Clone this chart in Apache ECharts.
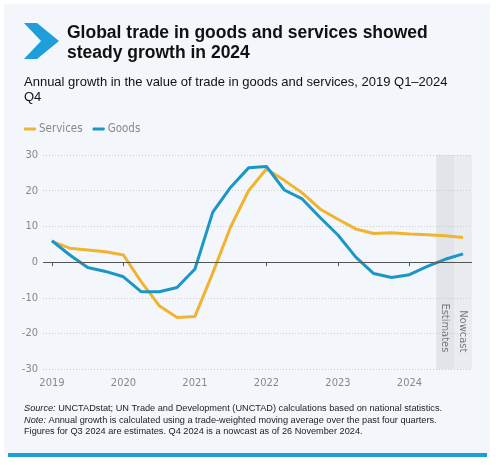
<!DOCTYPE html>
<html>
<head>
<meta charset="utf-8">
<script src="https://cdn.jsdelivr.net/npm/echarts@6/dist/echarts.min.js"></script>
<style>
html,body{margin:0;padding:0;background:#fff;}
#chart{width:500px;height:465px;}
</style>
</head>
<body>
<div id="chart"></div>
<script>
// ---- data ----
var quarters = [
  '2019 Q1','2019 Q2','2019 Q3','2019 Q4',
  '2020 Q1','2020 Q2','2020 Q3','2020 Q4',
  '2021 Q1','2021 Q2','2021 Q3','2021 Q4',
  '2022 Q1','2022 Q2','2022 Q3','2022 Q4',
  '2023 Q1','2023 Q2','2023 Q3','2023 Q4',
  '2024 Q1','2024 Q2','2024 Q3','2024 Q4'
];
var services = [
  5.8, 3.9, 3.4, 2.9,
  2.0, -5.5, -12.2, -15.5,
  -15.2, -3.0, 9.9, 20.0,
  26.1, 22.9, 19.4, 14.9,
  12.0, 9.3, 8.0, 8.2,
  7.9, 7.7, 7.4, 6.9
];
var goods = [
  6.0, 2.0, -1.5, -2.6,
  -4.1, -8.3, -8.3, -7.1,
  -1.9, 14.0, 21.0, 26.4,
  26.8, 20.2, 17.7, 12.5,
  7.6, 1.4, -3.2, -4.3,
  -3.5, -1.2, 0.8, 2.3
];
var shadedPeriods = ['2024 Q3', '2024 Q4'];
var shadedLabels = ['Estimates', 'Nowcast'];
var yTicks = [-30, -20, -10, 0, 10, 20, 30];

var NARROW = "'Liberation Sans Narrow','Arial Narrow','DejaVu Sans Condensed',sans-serif";
var SANS = "'Liberation Sans',Arial,Helvetica,sans-serif";
var shadeColors = ['#e1e5e9', '#eaedf0'];

var shadeData = quarters.map(function (q) {
  var i = shadedPeriods.indexOf(q);
  if (i < 0) return null;
  return { value: 1, name: shadedLabels[i], itemStyle: { color: shadeColors[i] } };
});

var chart = echarts.init(document.getElementById('chart'), null, { renderer: 'canvas' });
chart.setOption({
  backgroundColor: '#ffffff',
  animation: false,
  graphic: [
    { type: 'rect', z: -10, shape: { x: 4, y: 4, width: 486, height: 450 }, style: { fill: '#f3f7fb' } },
    { type: 'rect', z: -9, shape: { x: 8, y: 453, width: 479, height: 4 }, style: { fill: '#1aa0d6' } },
    { type: 'polygon', z: -8, shape: { points: [[24,23],[37,23],[59,41],[37,59],[24,59],[41,41]] }, style: { fill: '#1e9fd9' } }
  ],
  title: [
    {
      text: 'Global trade in goods and services showed\nsteady growth in 2024',
      left: 67, top: 23, padding: 0,
      textStyle: { fontFamily: SANS, fontSize: 17.5, fontWeight: 'bold', color: '#111', lineHeight: 20 }
    },
    {
      text: 'Annual growth in the value of trade in goods and services, 2019 Q1\u20132024\nQ4',
      left: 24, top: 75, padding: 0,
      textStyle: { fontFamily: SANS, fontSize: 13, fontWeight: 'normal', color: '#111', lineHeight: 15 }
    },
    {
      text: '{i|Source:} UNCTADstat; UN Trade and Development (UNCTAD) calculations based on national statistics.\n' +
            '{i|Note:} Annual growth is calculated using a trade-weighted moving average over the past four quarters.\n' +
            'Figures for Q3 2024 are estimates. Q4 2024 is a nowcast as of 26 November 2024.',
      left: 24, top: 403, padding: 0,
      textStyle: {
        fontFamily: SANS, fontSize: 9.2, fontWeight: 'normal', color: '#222', lineHeight: 11.5,
        rich: { i: { fontStyle: 'italic', fontFamily: SANS, fontSize: 9.2, color: '#222', lineHeight: 11.5 } }
      }
    }
  ],
  legend: {
    data: ['Services', 'Goods'],
    left: 24, top: 123, padding: 0,
    icon: 'roundRect', itemWidth: 12, itemHeight: 3, itemGap: 10,
    textStyle: { fontFamily: NARROW, fontSize: 11.5, color: '#888', padding: [0, 0, 0, -2] }
  },
  grid: { left: 43, right: 28, top: 155, bottom: 95.7, containLabel: false },
  xAxis: {
    type: 'category',
    data: quarters,
    boundaryGap: true,
    axisLine: { show: false },
    axisTick: {
      show: true, alignWithLabel: true, length: 4,
      interval: function (idx) { return idx % 4 === 0; },
      lineStyle: { color: '#555', width: 1 }
    },
    axisLabel: {
      interval: function (idx) { return idx % 4 === 0; },
      formatter: function (v) { return v.slice(0, 4); },
      fontFamily: NARROW, fontSize: 11, color: '#888', margin: 8
    },
    splitLine: { show: false }
  },
  yAxis: [
    {
      type: 'value', min: yTicks[0], max: yTicks[yTicks.length - 1], interval: 10,
      axisLine: { show: false }, axisTick: { show: false },
      axisLabel: { fontFamily: NARROW, fontSize: 11, color: '#888', margin: 5 },
      splitLine: { show: true, lineStyle: { color: '#c9ccd0', type: [1, 2], width: 1 } }
    },
    { type: 'value', min: 0, max: 1, show: false, splitLine: { show: false } }
  ],
  series: [
    {
      name: 'shade', type: 'bar', yAxisIndex: 1, z: -1,
      barWidth: '100%', barGap: '-100%',
      data: shadeData, silent: true,
      label: {
        show: true, position: 'insideBottom', distance: 17, rotate: -90,
        align: 'right', verticalAlign: 'middle',
        formatter: '{b}', fontFamily: NARROW, fontSize: 11, color: '#777'
      }
    },
    {
      name: 'Services', type: 'line', data: services,
      symbol: 'none', smooth: false,
      lineStyle: { color: '#f0b431', width: 3 }, itemStyle: { color: '#f0b431' },
      markLine: {
        silent: true, symbol: ['none', 'none'], label: { show: false },
        lineStyle: { color: '#555', type: 'solid', width: 1 },
        data: [{ yAxis: 0 }]
      }
    },
    {
      name: 'Goods', type: 'line', data: goods,
      symbol: 'none', smooth: false,
      lineStyle: { color: '#1c96c6', width: 3 }, itemStyle: { color: '#1c96c6' }
    }
  ]
});
</script>
</body>
</html>
